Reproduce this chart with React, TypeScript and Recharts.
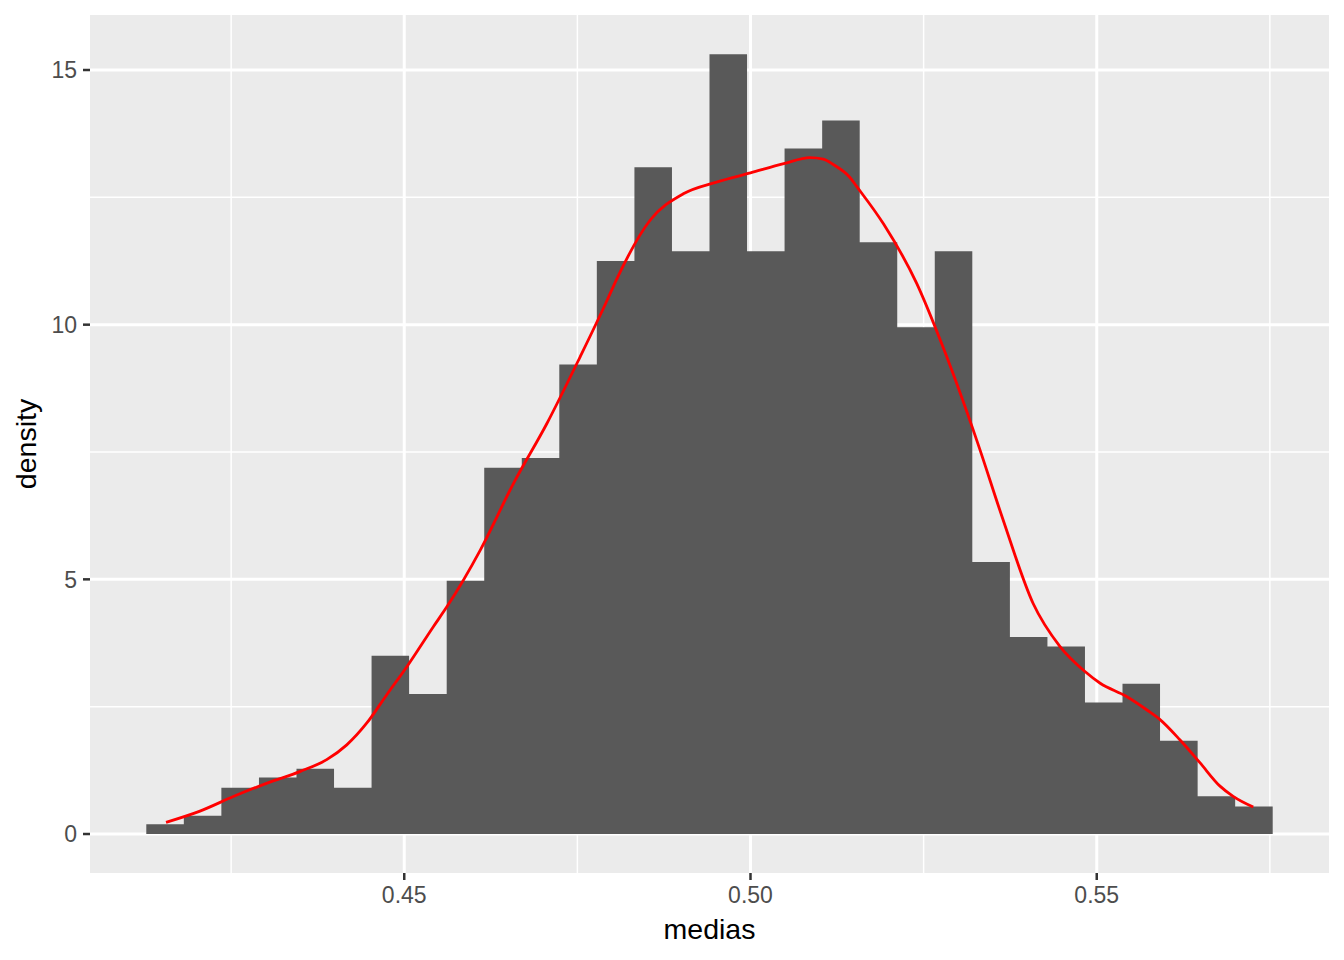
import { ComposedChart, Area, Line, XAxis, YAxis, CartesianGrid, Label } from 'recharts'

// histogram: 30 bins, left edges + final right edge
const binEdges = [
  0.41275, 0.41817, 0.42359, 0.42902, 0.43444, 0.43986, 0.44528, 0.4507, 0.45613, 0.46155,
  0.46697, 0.47239, 0.47781, 0.48324, 0.48866, 0.49408, 0.4995, 0.50492, 0.51035, 0.51577,
  0.52119, 0.52661, 0.53203, 0.53746, 0.54288, 0.5483, 0.55372, 0.55914, 0.56457, 0.56999,
  0.57541,
]
const binDensity = [
  0.19, 0.36, 0.91, 1.11, 1.28, 0.91, 3.5, 2.75, 4.97, 7.19,
  7.38, 9.22, 11.25, 13.09, 11.44, 15.31, 11.44, 13.46, 14.01, 11.62,
  9.95, 11.44, 5.34, 3.87, 3.68, 2.58, 2.95, 1.83, 0.74, 0.54,
]

// kernel density curve
const curveX = [
  0.4156, 0.4205, 0.4254, 0.4302, 0.435, 0.4388, 0.4417, 0.4446, 0.4475, 0.4504,
  0.4542, 0.4562, 0.461, 0.4658, 0.4706, 0.4754, 0.4793, 0.4807, 0.4855, 0.4903,
  0.4951, 0.5, 0.5048, 0.5086, 0.5105, 0.512, 0.5143, 0.5153, 0.5192, 0.524, 0.5278,
  0.5328, 0.5364, 0.5408, 0.5447, 0.5483, 0.5505, 0.5543, 0.5572, 0.5591, 0.562,
  0.5649, 0.5678, 0.5697, 0.5726,
]
const curveY = [
  0.23, 0.45, 0.74, 1.0, 1.23, 1.46, 1.75, 2.18, 2.74, 3.29,
  4.07, 4.47, 5.58, 6.89, 8.06, 9.37, 10.48, 10.9, 12.05, 12.57,
  12.8, 12.98, 13.16, 13.28, 13.25, 13.14, 12.9, 12.72, 11.98, 10.81, 9.56,
  7.68, 6.2, 4.53, 3.68, 3.19, 2.96, 2.7, 2.44, 2.25, 1.85,
  1.4, 0.94, 0.74, 0.53,
]

const xTicks = [0.45, 0.5, 0.55]
const xMinor = [0.425, 0.475, 0.525, 0.575]
const yTicks = [0, 5, 10, 15]
const yMinor = [2.5, 7.5, 12.5]

type Row = { x: number; hist?: number; dens?: number }

const rows: Row[] = [
  ...binEdges.map((x, i) => ({ x, hist: binDensity[Math.min(i, binDensity.length - 1)] })),
  ...curveX.map((x, i) => ({ x, dens: curveY[i] })),
].sort((a, b) => a.x - b.x)

const FONT = '"Liberation Sans", Arial, sans-serif'

const tickStyle = { fill: '#4D4D4D', fontSize: 23, fontFamily: FONT }
const tickLineStyle = { stroke: '#333333', strokeWidth: 2.5 }

function YTitle(props: any) {
  const vb = props.viewBox || { x: 0, y: 15, width: 90, height: 858 }
  const x = vb.x + 36
  const y = vb.y + vb.height / 2
  return (
    <text x={x} y={y} transform={`rotate(-90 ${x} ${y})`} textAnchor="middle" fontSize={28.5} fontFamily={FONT} fill="#000000">
      density
    </text>
  )
}

function XTitle(props: any) {
  const vb = props.viewBox || { x: 90, y: 873, width: 1239, height: 87 }
  return (
    <text x={vb.x + vb.width / 2} y={vb.y + 66} textAnchor="middle" fontSize={28.5} fontFamily={FONT} fill="#000000">
      medias
    </text>
  )
}

export default function App() {
  return (
    <div style={{ position: 'absolute', left: 0, top: 0, width: 1344, height: 960, background: '#ffffff', fontFamily: FONT }}>
      <ComposedChart width={1344} height={960} data={rows} margin={{ top: 15, right: 15, bottom: 0, left: 0 }}>
        <CartesianGrid fill="#EBEBEB" stroke="#FFFFFF" strokeWidth={1.5} horizontalValues={yMinor} verticalValues={xMinor} />
        <CartesianGrid stroke="#FFFFFF" strokeWidth={3} horizontalValues={yTicks} verticalValues={xTicks} />
        <XAxis
          type="number"
          dataKey="x"
          domain={[0.40462, 0.58354]}
          allowDataOverflow
          ticks={xTicks}
          tickFormatter={(v: number) => v.toFixed(2)}
          tick={tickStyle}
          tickLine={tickLineStyle}
          tickSize={7}
          tickMargin={7}
          axisLine={false}
          height={87}
        >
          <Label content={XTitle} />
        </XAxis>
        <YAxis
          type="number"
          domain={[-0.7655, 16.08]}
          allowDataOverflow
          ticks={yTicks}
          tick={tickStyle}
          tickLine={tickLineStyle}
          tickSize={7}
          tickMargin={6}
          axisLine={false}
          width={90}
        >
          <Label content={YTitle} />
        </YAxis>
        <Area
          dataKey="hist"
          type="stepAfter"
          baseValue={0}
          connectNulls
          stroke="none"
          fill="#595959"
          fillOpacity={1}
          dot={false}
          activeDot={false}
          isAnimationActive={false}
        />
        <Line
          dataKey="dens"
          type="monotone"
          connectNulls
          stroke="#FF0000"
          strokeWidth={2.8}
          dot={false}
          activeDot={false}
          isAnimationActive={false}
        />
      </ComposedChart>
    </div>
  )
}
